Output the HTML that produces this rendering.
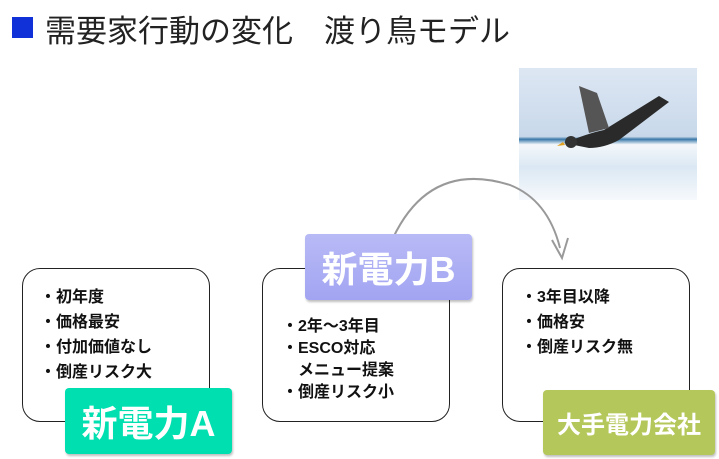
<!DOCTYPE html>
<html><head><meta charset="utf-8"><style>
body{margin:0;width:719px;height:459px;background:#fff;position:relative;overflow:hidden;font-family:"Liberation Sans","Noto Sans CJK JP",sans-serif;}
.t{position:absolute;left:45px;top:6px;font-size:31px;color:#222;}
.sq{position:absolute;left:12px;top:17px;width:21px;height:21px;background:#1030d8;}
.box{position:absolute;top:268px;width:186px;height:152px;border:1.5px solid #222;border-radius:18px;background:#fff;}
.txt{position:absolute;font-size:16px;line-height:25px;color:#111;font-weight:bold;}
.lab{position:absolute;color:#fff;font-weight:bold;display:flex;align-items:center;justify-content:center;border-radius:4px;box-shadow:1px 2px 2px rgba(0,0,0,.25);}
</style></head><body>
<div class="sq"></div><div class="t">需要家行動の変化　渡り鳥モデル</div>
<div style="position:absolute;left:519px;top:68px;width:178px;height:132px;background:linear-gradient(#dde7f3 0%,#c8d8ea 52%,#3a78a8 54%,#f4f8fb 58%,#dbe8f3 75%,#f6f9fc 100%);"></div>
<svg style="position:absolute;left:519px;top:68px" width="178" height="132"><path d="M45 75 Q70 65 85 62 L140 28 L150 34 L100 72 Q85 80 70 80 Z" fill="#2a2a2a"/><path d="M70 65 L60 18 L78 25 L90 60 Z" fill="#555"/><circle cx="52" cy="74" r="6" fill="#333"/><path d="M44 74 L38 78 L46 77Z" fill="#e0a020"/></svg>
<svg style="position:absolute;left:0;top:0" width="719" height="459"><path d="M393 238 Q430 160 510 185 Q548 200 560 248" fill="none" stroke="#999" stroke-width="2"/><path d="M552 240 L562 258 L568 238" fill="none" stroke="#999" stroke-width="2"/></svg>
<div class="box" style="left:22px"></div>
<div class="box" style="left:262px"></div>
<div class="box" style="left:502px"></div>
<div class="txt" style="left:40px;top:285px">・初年度<br>・価格最安<br>・付加価値なし<br>・倒産リスク大</div>
<div class="txt" style="left:282px;top:316px;line-height:22px">・2年～3年目<br>・ESCO対応<br>　メニュー提案<br>・倒産リスク小</div>
<div class="txt" style="left:521px;top:285px">・3年目以降<br>・価格安<br>・倒産リスク無</div>
<div class="lab" style="left:65px;top:388px;width:167px;height:66px;background:#00dfb0;font-size:36px">新電力A</div>
<div class="lab" style="left:305px;top:234px;width:167px;height:66px;background:linear-gradient(#b8baf6,#a2a4f2);font-size:36px">新電力B</div>
<div class="lab" style="left:543px;top:390px;width:172px;height:65px;background:#b4c75a;font-size:24px">大手電力会社</div>
</body></html>
